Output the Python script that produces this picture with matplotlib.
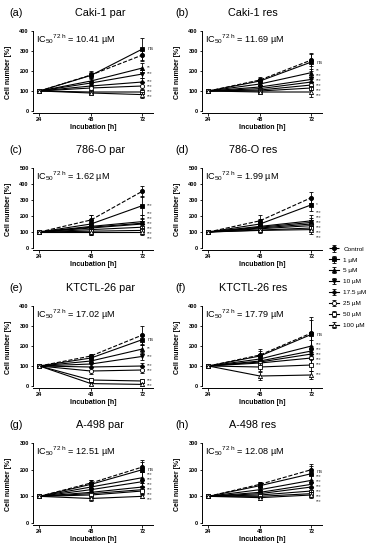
import numpy as np
import matplotlib
matplotlib.use("Agg")
import matplotlib.pyplot as plt

plt.rcParams['font.family'] = ['Liberation Sans', 'DejaVu Sans']
plt.rcParams['mathtext.fontset'] = 'custom'
plt.rcParams['mathtext.rm'] = 'Liberation Sans'
plt.rcParams['mathtext.it'] = 'Liberation Sans:italic'

# ---- data ----
hours = [24, 48, 72]
doses = ['Control', '1 µM', '5 µM', '10 µM', '17.5 µM', '25 µM', '50 µM', '100 µM']

titles = ['Caki-1 par', 'Caki-1 res', '786-O par', '786-O res',
          'KTCTL-26 par', 'KTCTL-26 res', 'A-498 par', 'A-498 res']
letters = ['(a)', '(b)', '(c)', '(d)', '(e)', '(f)', '(g)', '(h)']
ic50 = ['10.41', '11.69', '1.62', '1.99', '17.02', '17.79', '12.51', '12.08']
ymax = [400, 400, 500, 500, 400, 400, 300, 300]

# values at 48 h and 72 h (24 h is 100 % for all)
a48 = [180, 178, 150, 140, 125, 115, 95, 90]
a72 = [280, 310, 215, 185, 145, 125, 95, 82]
b48 = [155, 150, 135, 120, 112, 105, 100, 95]
b72 = [255, 245, 192, 158, 145, 130, 115, 95]
c48 = [175, 150, 135, 130, 125, 115, 105, 100]
c72 = [355, 265, 165, 155, 150, 130, 110, 100]
d48 = [170, 150, 135, 130, 125, 120, 112, 110]
d72 = [315, 270, 170, 160, 150, 140, 125, 115]
e48 = [150, 140, 125, 110, 95, 75, 30, 12]
e72 = [255, 232, 185, 148, 100, 80, 25, 8]
f48 = [155, 150, 135, 125, 120, 115, 95, 50]
f72 = [265, 258, 200, 175, 160, 140, 105, 55]
g48 = [150, 145, 135, 125, 115, 110, 105, 92]
g72 = [210, 200, 170, 155, 135, 125, 120, 100]
h48 = [145, 140, 125, 115, 110, 105, 100, 95]
h72 = [200, 185, 160, 145, 135, 120, 110, 105]

# SD at 48 h and 72 h
a_sd48 = [15, 20, 15, 12, 12, 10, 10, 12]
a_sd72 = [30, 55, 25, 20, 18, 15, 12, 15]
b_sd48 = [15, 15, 12, 10, 10, 10, 10, 10]
b_sd72 = [30, 45, 20, 15, 15, 12, 12, 25]
c_sd48 = [30, 55, 40, 35, 30, 30, 25, 20]
c_sd72 = [35, 60, 40, 35, 30, 30, 25, 20]
d_sd48 = [35, 30, 25, 20, 20, 15, 15, 15]
d_sd72 = [35, 40, 35, 30, 25, 20, 20, 25]
e_sd48 = [10, 15, 12, 15, 15, 15, 12, 8]
e_sd72 = [45, 25, 20, 20, 15, 15, 10, 8]
f_sd48 = [30, 25, 20, 15, 15, 15, 20, 20]
f_sd72 = [80, 70, 30, 25, 25, 30, 30, 20]
g_sd48 = [10, 15, 12, 10, 10, 10, 10, 8]
g_sd72 = [20, 35, 20, 15, 15, 15, 15, 8]
h_sd48 = [10, 12, 10, 10, 10, 8, 8, 8]
h_sd72 = [15, 35, 20, 15, 15, 12, 12, 10]

a_sig = ['ns', '**', '***', '***', '***', '***', '***']
b_sig = ['ns', '**', '***', '***', '***', '***', '***']
c_sig = ['***', '***', '***', '***', '***', '***', '***']
d_sig = ['*', '***', '***', '***', '***', '***', '***']
e_sig = ['ns', '**', '***', '***', '***', '***', '***']
f_sig = ['ns', '***', '***', '***', '***', '***', '***']
g_sig = ['ns', '***', '***', '***', '***', '***', '***']
h_sig = ['ns', '***', '***', '***', '***', '***', '***']

v48 = [a48, b48, c48, d48, e48, f48, g48, h48]
v72 = [a72, b72, c72, d72, e72, f72, g72, h72]
sd48 = [a_sd48, b_sd48, c_sd48, d_sd48, e_sd48, f_sd48, g_sd48, h_sd48]
sd72 = [a_sd72, b_sd72, c_sd72, d_sd72, e_sd72, f_sd72, g_sd72, h_sd72]
sigs = [a_sig, b_sig, c_sig, d_sig, e_sig, f_sig, g_sig, h_sig]

markers = ['o', 's', '^', 'v', 'D', 'o', 's', '^']
filled = [True, True, True, True, True, False, False, False]


def spread(vals, gap, n_iter=200):
    # push label positions apart so neighbours are at least `gap` away
    p = np.array(vals, dtype=float)
    order = np.argsort(-p)
    for _ in range(n_iter):
        moved = False
        for a, b in zip(order[:-1], order[1:]):
            d = p[a] - p[b]
            if d < gap:
                shift = (gap - d) / 2 + 1e-6
                p[a] += shift
                p[b] -= shift
                moved = True
        if not moved:
            break
    return p


W, H = 379, 550
fig = plt.figure(figsize=(W / 100, H / 100), dpi=100)

row_off = [0, 137, 275, 412]
col_spine = [33, 202]
px_per_h = 2.146

handles = []
for i in range(8):
    r, c = divmod(i, 2)
    x0 = col_spine[c]
    top = row_off[r] + 31
    bot = row_off[r] + 113
    wpx = 56 * px_per_h
    hpx = bot - top
    ax = fig.add_axes([x0 / W, 1 - bot / H, wpx / W, hpx / H])
    ym = ymax[i]
    lo = -ym * 0.025
    ax.set_xlim(21, 77)
    ax.set_ylim(lo, ym)

    for k in range(8):
        y = [100, v48[i][k], v72[i][k]]
        err = [0, sd48[i][k], sd72[i][k]]
        ls = '--' if k == 0 else '-'
        h = ax.errorbar(hours, y, yerr=err, color='black', lw=0.8, ls=ls,
                        marker=markers[k], ms=3.0 if markers[k] != 'D' else 2.3,
                        mfc='black' if filled[k] else 'white', mec='black', mew=0.6,
                        elinewidth=0.6, capsize=1.4, capthick=0.6, zorder=3 + k)
        if i == 0:
            handles.append(h)

    # significance labels at 72 h
    gap = (ym - lo) * 5.0 / hpx
    pos = spread(v72[i][1:], gap)
    for j in range(7):
        lab = sigs[i][j]
        ax.text(74.2, pos[j], lab, fontsize=4.2 if lab == 'ns' else 3.4,
                color='#444444', ha='left', va='center', clip_on=False)

    for s in ['top', 'right']:
        ax.spines[s].set_visible(False)
    ax.spines['left'].set_bounds(0, ym)
    ax.spines['left'].set_linewidth(0.7)
    ax.spines['bottom'].set_linewidth(0.7)
    ax.set_xticks(hours)
    ax.set_yticks(np.arange(0, ym + 1, 100))
    ax.tick_params(length=1.8, width=0.6, pad=1.2, labelsize=4.0)
    for lab in ax.get_xticklabels() + ax.get_yticklabels():
        lab.set_fontweight('bold')
    ax.set_xlabel('Incubation [h]', fontsize=5.0, fontweight='bold', labelpad=1.5)
    ax.set_ylabel('Cell number [%]', fontsize=5.0, fontweight='bold')
    ax.yaxis.set_label_coords(-21 / wpx, 0.5)

    ax.text(0.025, 0.89, r'IC$_{50}$$^{72\ \mathrm{h}}$ = ' + ic50[i] + ' µM',
            transform=ax.transAxes, fontsize=6.6, ha='left', va='center')

    title_x = [100, 253][c]
    letter_x = [9, 175][c]
    fig.text(title_x / W, 1 - (row_off[r] + 13) / H, titles[i], fontsize=7.8,
             ha='center', va='center')
    fig.text(letter_x / W, 1 - (row_off[r] + 13) / H, letters[i], fontsize=7.8,
             ha='left', va='center')

fig.legend(handles, doses, loc='upper left', bbox_to_anchor=(326 / W, 1 - 243 / H),
           frameon=False, fontsize=4.6, handlelength=1.6, handletextpad=0.6,
           labelspacing=0.85, borderpad=0)

fig.savefig('out.png', dpi=100)
